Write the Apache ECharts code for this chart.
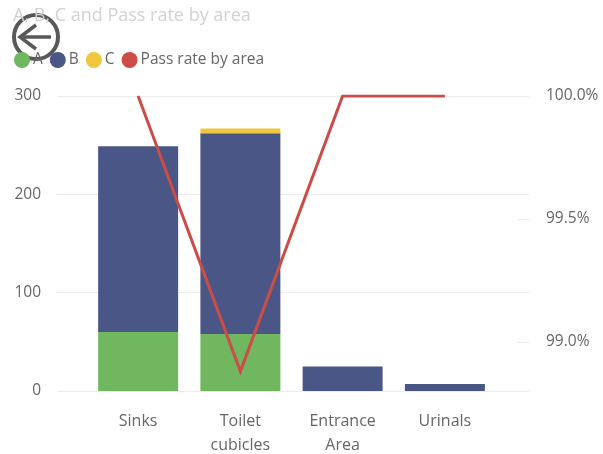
<!DOCTYPE html>
<html>
<head>
<meta charset="utf-8">
<style>html,body{margin:0;padding:0;background:#fff}#chart{width:603px;height:454px}</style>
<script src="https://cdn.jsdelivr.net/npm/echarts@6/dist/echarts.min.js"></script>
</head>
<body>
<div id="chart"></div>
<script>
// Inspection results per area: counts by grade and overall pass rate.
const areas = ['Sinks', 'Toilet\ncubicles', 'Entrance\nArea', 'Urinals'];
const gradeA = [60, 58, null, null];
const gradeB = [189, 204, 25, 7];
const gradeC = [null, 5, null, null];
const passRate = [100, 98.88, 100, 100];
const countTicks = [0, 100, 200, 300];
const rateTicks = [99, 99.5, 100];

const FONT = '"Open Sans", sans-serif';
const chart = echarts.init(document.getElementById('chart'));

const bar = (name, data, color) => ({
  name, type: 'bar', stack: 'grades', data, xAxisIndex: 1, yAxisIndex: 2,
  barWidth: 80, itemStyle: { color }, silent: true
});

chart.setOption({
  animation: false,
  textStyle: { fontFamily: FONT },
  title: {
    text: 'A, B, C and Pass rate by area', left: 8, top: 2,
    textStyle: { color: '#d2d2d2', fontSize: 18, fontWeight: 'normal', fontFamily: FONT }
  },
  legend: {
    left: 9, top: 47, itemWidth: 16, itemHeight: 16, itemGap: 7, icon: 'circle',
    data: ['A', 'B', 'C', 'Pass rate by area'],
    textStyle: { color: '#666', fontSize: 15.5, fontFamily: FONT, padding: [0, 0, 0, -2] }
  },
  // Outer grid carries the long gridlines and axis labels, inner grid holds the marks.
  grid: [
    { left: 57, right: 74, top: 96, bottom: 63, outerBoundsMode: 'none' },
    { left: 87, right: 107, top: 96, bottom: 63, outerBoundsMode: 'none' }
  ],
  xAxis: [
    { gridIndex: 0, type: 'category', data: areas, show: false },
    {
      gridIndex: 1, type: 'category', data: areas,
      axisLine: { show: false }, axisTick: { show: false },
      axisLabel: { color: '#666', fontSize: 16, lineHeight: 24, margin: 18, interval: 0, fontFamily: FONT }
    }
  ],
  yAxis: [
    {
      gridIndex: 0, type: 'value', min: 0, max: 300, interval: 100,
      axisLine: { show: false }, axisTick: { show: false },
      splitLine: { lineStyle: { color: '#ececec', width: 1 } },
      axisLabel: { color: '#666', fontSize: 15.5, margin: 16, fontFamily: FONT,
        customValues: countTicks }
    },
    {
      gridIndex: 0, type: 'value', position: 'right', min: 98.8, max: 100,
      axisLine: { show: false }, splitLine: { show: false },
      axisTick: { show: true, inside: true, length: 11, lineStyle: { color: '#ececec' }, customValues: rateTicks },
      axisLabel: { color: '#666', fontSize: 15.5, margin: 17, fontFamily: FONT,
        customValues: rateTicks, formatter: v => v.toFixed(1) + '%' }
    },
    { gridIndex: 1, type: 'value', min: 0, max: 300, show: false },
    { gridIndex: 1, type: 'value', min: 98.8, max: 100, show: false }
  ],
  series: [
    bar('A', gradeA, '#70B75F'),
    bar('B', gradeB, '#4A5786'),
    bar('C', gradeC, '#EEC73F'),
    {
      name: 'Pass rate by area', type: 'line', data: passRate, xAxisIndex: 1, yAxisIndex: 3,
      symbol: 'none', z: 5, silent: true,
      lineStyle: { color: '#CC4C47', width: 3, join: 'miter' },
      itemStyle: { color: '#CC4C47' }
    }
  ],
  // Back button drawn over the top-left corner of the visual.
  graphic: [{
    type: 'group', left: 12, top: 13, z: 20, children: [
      { type: 'circle', shape: { cx: 25, cy: 23, r: 22 }, style: { fill: 'rgba(255,255,255,0.75)', stroke: '#585858', lineWidth: 4 } },
      { type: 'polyline', shape: { points: [[9, 23], [40, 23]] }, style: { fill: null, stroke: '#585858', lineWidth: 3.5 } },
      { type: 'polyline', shape: { points: [[25, 11], [9, 23], [25, 35]] }, style: { fill: null, stroke: '#585858', lineWidth: 3.5 } }
    ]
  }]
});
</script>
</body>
</html>
